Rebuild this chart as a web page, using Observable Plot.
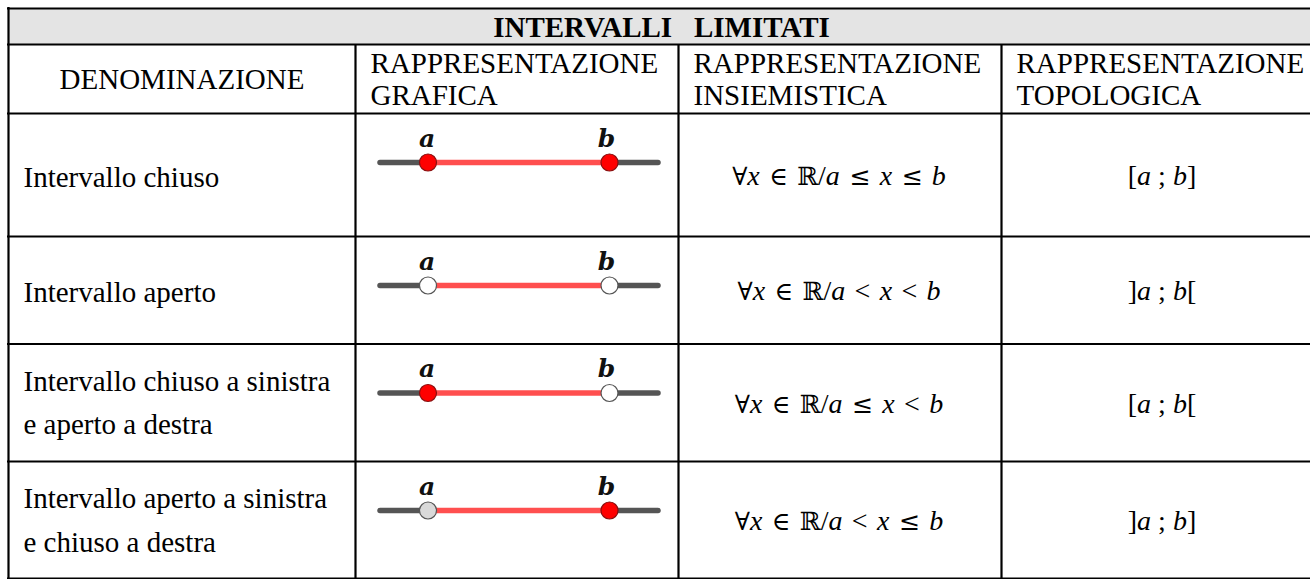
<!DOCTYPE html>
<html>
<head>
<meta charset="utf-8">
<script src="https://cdn.jsdelivr.net/npm/d3@7"></script>
<script src="https://cdn.jsdelivr.net/npm/@observablehq/plot@0.6"></script>
<style>
  html, body { margin: 0; padding: 0; background: #fff; }
  #chart svg { display: block; }
</style>
</head>
<body>
<div id="chart"></div>
<script>
// ---------- DATA ----------
const title = "INTERVALLI   LIMITATI";
const headers = ["DENOMINAZIONE", "RAPPRESENTAZIONE\nGRAFICA", "RAPPRESENTAZIONE\nINSIEMISTICA", "RAPPRESENTAZIONE\nTOPOLOGICA"];
const names = [
  "Intervallo chiuso",
  "Intervallo aperto",
  "Intervallo chiuso a sinistra\ne aperto a destra",
  "Intervallo aperto a sinistra\ne chiuso a destra"
];
const setNotation = ["∀x ∈ ℝ/a ≤ x ≤ b", "∀x ∈ ℝ/a < x < b", "∀x ∈ ℝ/a ≤ x < b", "∀x ∈ ℝ/a < x ≤ b"];
const topoNotation = ["[a ; b]", "]a ; b[", "[a ; b[", "]a ; b]"];
const leftEnd  = ["closed", "open", "closed", "open"];
const rightEnd = ["closed", "open", "open", "closed"];
const endLabels = ["a", "b"];

// ---------- LAYOUT / STYLE ----------
const W = 1310, H = 579;
const colEdges = [8, 355, 678, 1001, 1322];
const rowEdges = [8, 44, 113, 236, 343.5, 461, 578];
const pad = 15;
const fontText = "'Liberation Serif', 'Times New Roman', serif";
const fontSize = 29;
const mathSize = 28;
const nlX = {left: 380, a: 427.5, b: 609, right: 658};
const nlOffset = 49;
const openFill = ["#fff", "#fff", "#fff", "#d9d9d9"];
const closedFill = "#ff0000";

const mid = (a, b) => (a + b) / 2;

// table lines
const hLines = rowEdges.map(y => ({y, x1: colEdges[0] - 1, x2: colEdges[4]}));
const vLines = [
  {x: colEdges[0], y1: rowEdges[0] - 1, y2: rowEdges[6] + 1},
  ...colEdges.slice(1, 4).map(x => ({x, y1: rowEdges[1], y2: rowEdges[6] + 1}))
];

// header cells
const headerCells = headers.map((t, i) => ({
  text: t,
  x: i === 0 ? mid(colEdges[0], colEdges[1]) : colEdges[i] + pad,
  y: mid(rowEdges[1], rowEdges[2]),
  centered: i === 0
}));

// body rows
const rows = names.map((n, i) => {
  const top = rowEdges[2 + i], bot = rowEdges[3 + i];
  const multi = n.includes("\n");
  return {
    i, name: n, set: setNotation[i], topo: topoNotation[i],
    top, bot, m: mid(top, bot), multi,
    lineY: top + nlOffset
  };
});

const segGray = rows.flatMap(r => [
  {y: r.lineY, x1: nlX.left, x2: nlX.a},
  {y: r.lineY, x1: nlX.b, x2: nlX.right}
]);
const segRed = rows.map(r => ({y: r.lineY, x1: nlX.a, x2: nlX.b}));
const points = rows.flatMap(r => [
  {x: nlX.a, y: r.lineY, type: leftEnd[r.i], row: r.i},
  {x: nlX.b, y: r.lineY, type: rightEnd[r.i], row: r.i}
]);
const labels = rows.flatMap(r => [
  {x: nlX.a - 1, y: r.lineY - 24, t: endLabels[0]},
  {x: nlX.b - 3, y: r.lineY - 24, t: endLabels[1]}
]);

const textStyle = {fontFamily: fontText, fontSize, fill: "#000"};

const svg = Plot.plot({
  width: W,
  height: H,
  margin: 0,
  x: {type: "linear", domain: [0, W], range: [0, W], axis: null},
  y: {type: "linear", domain: [0, H], range: [0, H], axis: null},
  color: {type: "identity"},
  style: {background: "#fff", overflow: "hidden"},
  marks: [
    // header band
    Plot.rect([0], {x1: colEdges[0], x2: colEdges[4], y1: rowEdges[0], y2: rowEdges[1], fill: "#e4e4e4"}),
    // title
    Plot.text([title], {
      x: mid(colEdges[0], colEdges[4]) - 4, y: mid(rowEdges[0], rowEdges[1]) + 1,
      text: d => d.replace(/ /g, "\u00a0"),
      fontFamily: fontText, fontWeight: "bold", fontSize: 29, fill: "#000"
    }),
    // header row
    Plot.text(headerCells.filter(d => d.centered), {
      x: "x", y: "y", text: "text", textAnchor: "middle", lineHeight: 1.09, ...textStyle
    }),
    Plot.text(headerCells.filter(d => !d.centered), {
      x: "x", y: "y", text: "text", textAnchor: "start", lineHeight: 1.09, ...textStyle
    }),
    // names
    Plot.text(rows, {
      x: colEdges[0] + pad, y: d => d.multi ? d.m - 4 : d.m - 2, text: "name", textAnchor: "start",
      lineHeight: 1.5, ...textStyle
    }),
    // set notation
    Plot.text(rows, {
      x: mid(colEdges[2], colEdges[3]) - 1, y: d => d.m + 1, text: "set",
      fontFamily: fontText, fontSize: mathSize, fill: "#000"
    }),
    // topological notation
    Plot.text(rows, {
      x: mid(colEdges[3], colEdges[4]), y: d => d.m + 1, text: "topo",
      fontFamily: fontText, fontSize: mathSize, fill: "#000"
    }),
    // number lines
    Plot.ruleY(segGray, {y: "y", x1: "x1", x2: "x2", stroke: "#555", strokeWidth: 5.5, strokeLinecap: "round"}),
    Plot.ruleY(segRed, {y: "y", x1: "x1", x2: "x2", stroke: "#ff4f4f", strokeWidth: 5.5}),
    Plot.dot(points, {
      x: "x", y: "y", r: 8.5,
      fill: d => d.type === "closed" ? closedFill : openFill[d.row],
      stroke: d => d.type === "closed" ? "#8a1010" : "#555",
      strokeWidth: 1.2
    }),
    Plot.text(labels, {
      x: "x", y: "y", text: "t",
      fontFamily: "'DejaVu Serif', serif", fontStyle: "italic", fontWeight: "bold", fontSize: 25, fill: "#111"
    }),
    // table grid
    Plot.ruleY(hLines, {y: "y", x1: "x1", x2: "x2", stroke: "#000", strokeWidth: 2.2}),
    Plot.ruleX(vLines, {x: "x", y1: "y1", y2: "y2", stroke: "#000", strokeWidth: 2.2})
  ]
});

// math styling: italic variables, upright symbols, wider math spaces
const mathStrings = new Set([...setNotation, ...topoNotation]);
d3.select(svg).selectAll("text").each(function () {
  const s = this.textContent;
  if (!mathStrings.has(s)) return;
  const el = d3.select(this);
  el.text(null);
  const runs = [];
  for (const ch of s) {
    const kind = /[a-z]/.test(ch) ? "var" : /[∀∈ℝ≤]/.test(ch) ? "sym" : "txt";
    if (runs.length && runs[runs.length - 1].kind === kind) runs[runs.length - 1].s += ch;
    else runs.push({kind, s: ch});
  }
  const isSet = setNotation.includes(s);
  for (const r of runs) {
    const t = el.append("tspan").text(r.s.replace(/ /g, isSet ? "\u2004" : "\u00a0"));
    if (r.kind === "var") t.attr("font-style", "italic").attr("font-family", "'Liberation Serif', serif");
    if (r.kind === "sym") t.attr("font-family", "'DejaVu Serif', 'DejaVu Sans', serif").attr("font-size", "0.9em");
  }
});

document.getElementById("chart").appendChild(svg);
</script>
</body>
</html>
